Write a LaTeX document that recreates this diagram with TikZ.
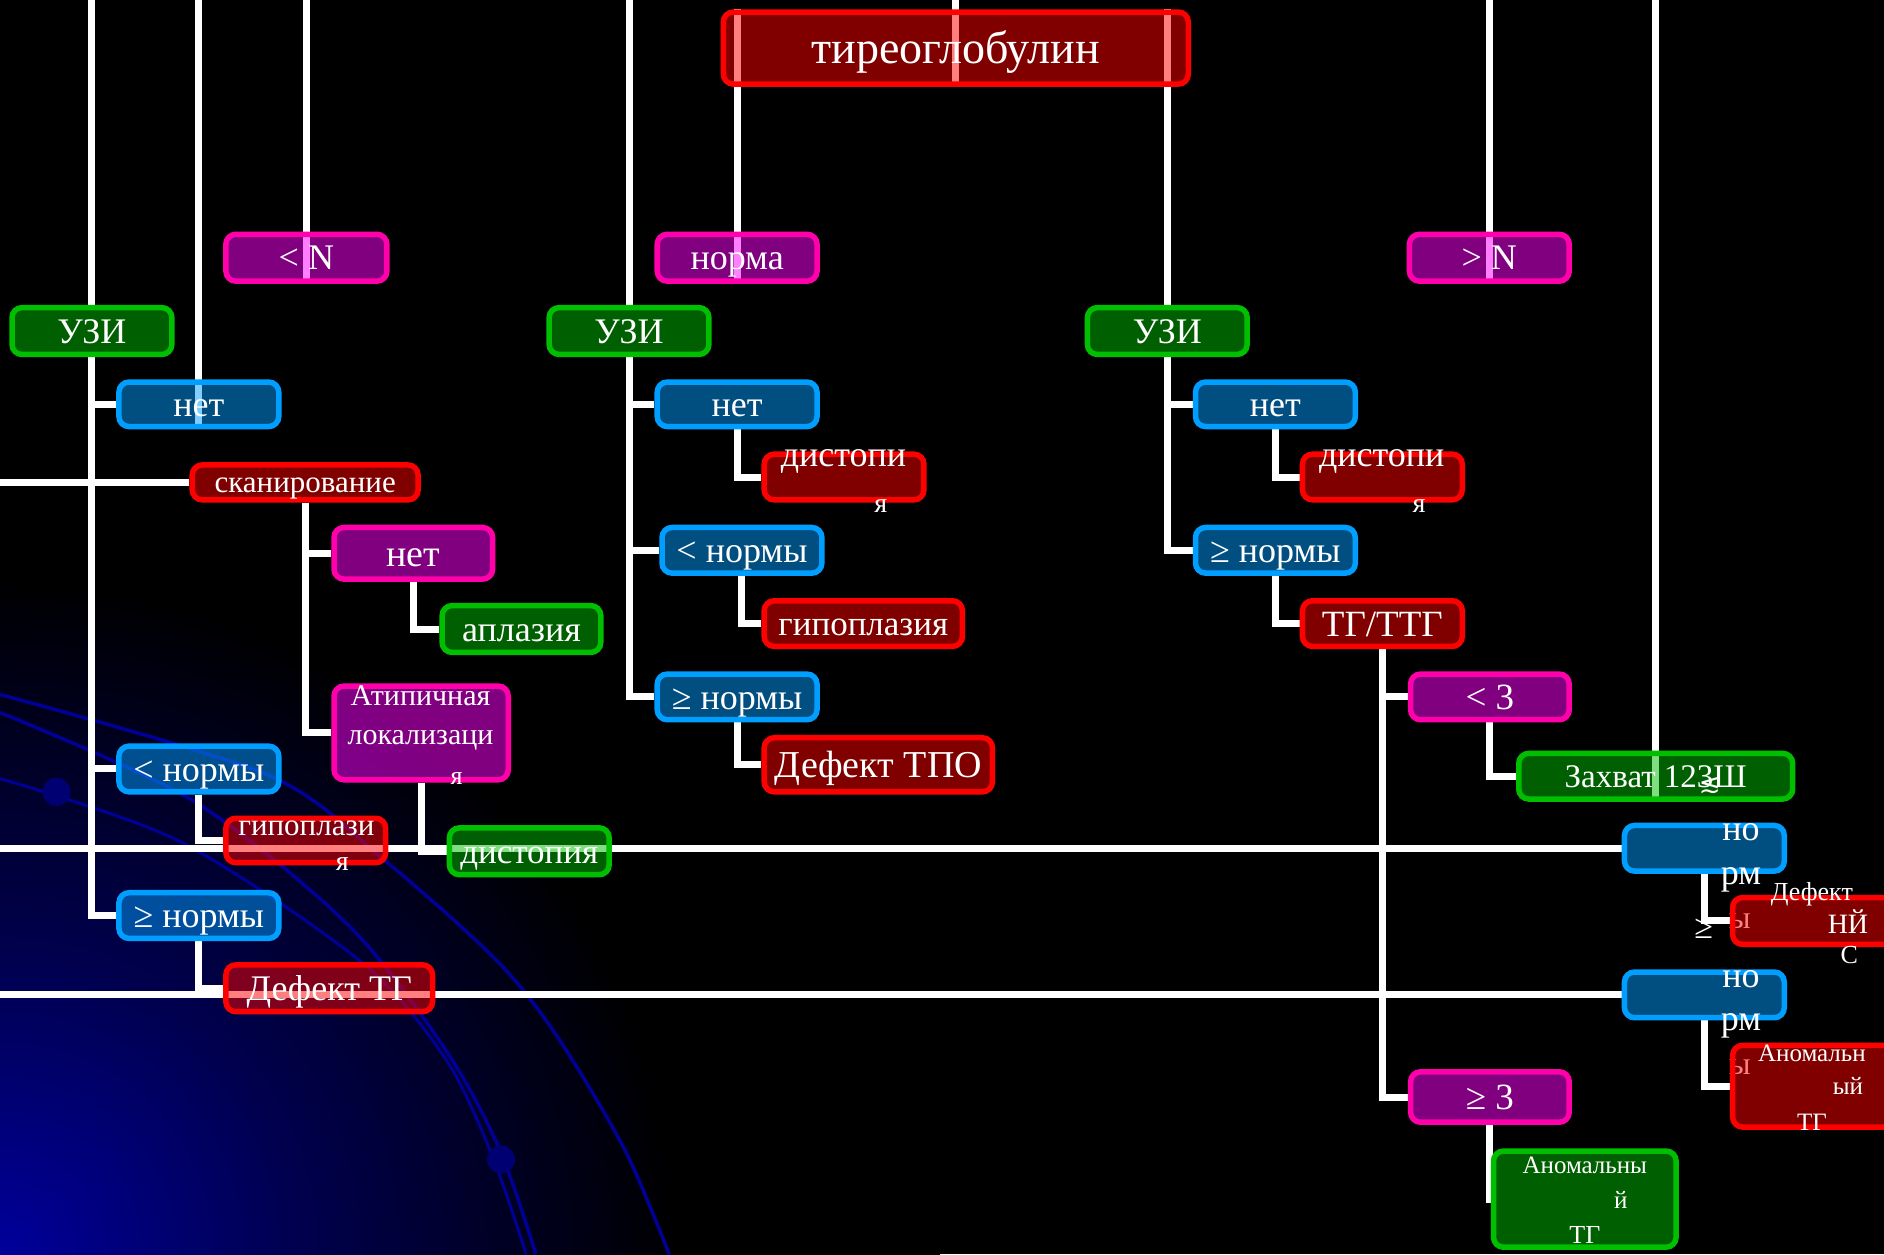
\documentclass[tikz,border=0pt]{standalone}
\usepackage{fontspec}
\setmainfont{Liberation Serif}
\newfontfamily\symfont{DejaVu Sans}
\pgfdeclarelayer{bg}
\pgfdeclarelayer{wires}
\pgfsetlayers{bg,wires,main}
\definecolor{bred}{RGB}{255,0,0}
\definecolor{bblue}{RGB}{0,158,255}
\definecolor{bgreen}{RGB}{0,190,0}
\definecolor{bpink}{RGB}{255,0,170}
\definecolor{bmag}{RGB}{255,0,255}
\definecolor{gblue}{RGB}{0,0,155}
\definecolor{gmid}{RGB}{0,0,78}
\definecolor{arcblue}{RGB}{0,0,150}
\definecolor{dotblue}{RGB}{0,0,115}
\pgfdeclareradialshading{glow}{\pgfpoint{0bp}{0bp}}{color(0bp)=(gblue); color(8bp)=(gmid); color(18bp)=(black); color(50bp)=(black)}
\tikzset{
  box/.style={rounded corners=10pt, line width=5.5pt, inner sep=0pt,
    fill opacity=0.5, text opacity=1, text=white},
  sz/.style 2 args={minimum width=#1*1.2015pt, minimum height=#2*1.2015pt},
  redbox/.style={box, draw=bred, fill=bred},
  bluebox/.style={box, draw=bblue, fill=bblue},
  greenbox/.style={box, draw=bgreen, fill=bgreen},
  purplebox/.style={box, draw=bpink, fill=bmag},
  wire/.style={draw=white, line width=7pt},
  lbl/.style={text=white, inner sep=0pt},
  fs/.style={font=\fontsize{#1}{#1}\selectfont},
  bfs/.style={font=\fontsize{#1}{#1}\selectfont, text height=#1*0.9pt, text depth=#1*0.22pt},
}
\begin{document}
\begin{tikzpicture}[x=1.2015pt, y=-1.2015pt]
\useasboundingbox (0,0) rectangle (1568,1044);

% ---------- background ----------
\begin{pgfonlayer}{bg}
\fill[black] (0,0) rectangle (1568,1044);
\begin{scope}
  \clip (0,0) rectangle (1568,1044);
  \shade[shading=glow] (0,1044) circle [radius=940pt];
  \draw[arcblue, line width=3.5pt] plot[smooth] coordinates {(0,578) (223,645) (320,716) (413,799) (464,863) (520,957) (557,1044)};
  \draw[arcblue, line width=3.5pt] plot[smooth] coordinates {(0,593) (160,666) (290,770) (371,874) (416,957) (446,1044)};
  \draw[arcblue, line width=3pt] plot[smooth] coordinates {(0,648) (149,700) (300,800) (370,880) (409,960) (438,1044)};
  \fill[dotblue] (47,659) circle [radius=14pt];
  \fill[dotblue] (417,965) circle [radius=14pt];
\end{scope}
\end{pgfonlayer}

% ---------- boxes ----------
\node[redbox, sz={387}{60}, bfs=46] (title) at (795.5,40) {тиреоглобулин};

\node[purplebox, sz={134}{39}, bfs=36] (lessN) at (255,214.5) {< N};
\node[purplebox, sz={133}{39}, bfs=36] (norma) at (613.5,214.5) {норма};
\node[purplebox, sz={133}{39}, bfs=36] (moreN) at (1239.5,214.5) {> N};

\node[greenbox, sz={133}{39}, bfs=36] (uzi1) at (76.5,275.5) {УЗИ};
\node[greenbox, sz={133}{39}, bfs=36] (uzi2) at (523.5,275.5) {УЗИ};
\node[greenbox, sz={133}{39}, bfs=36] (uzi3) at (971.5,275.5) {УЗИ};

\node[bluebox, sz={133}{37}, bfs=36] (net1) at (165.5,336.5) {нет};
\node[bluebox, sz={133}{37}, bfs=36] (net2) at (613.5,336.5) {нет};
\node[bluebox, sz={133}{37}, bfs=36] (net3) at (1061.5,336.5) {нет};

\node[redbox, sz={188}{29}, bfs=31] (scan) at (254,401.5) {сканирование};

\node[redbox, sz={133}{38}] (dist2) at (702.5,397) {};
\node[lbl, fs=36] (dist2a) at (702,384) {дистопи};
\node[lbl, fs=28] (dist2b) at (733,421) {я};
\node[redbox, sz={133}{38}] (dist3) at (1150.5,397) {};
\node[lbl, fs=36] (dist3a) at (1150,384) {дистопи};
\node[lbl, fs=28] (dist3b) at (1181,421) {я};

\node[purplebox, sz={132}{43}, bfs=38] (netp) at (344,460.5) {нет};
\node[bluebox, sz={133}{38}, bfs=36] (lt2) at (617.5,458) {< нормы};
\node[bluebox, sz={133}{38}, bfs=36] (ge3n) at (1061.5,458) {≥ нормы};

\node[greenbox, sz={132}{39}, bfs=36] (apl) at (434,523.5) {аплазия};
\node[redbox, sz={165}{38}, bfs=35] (gipo2) at (718.5,519) {гипоплазия};
\node[redbox, sz={133}{38}, bfs=37] (tgttg) at (1150.5,519) {ТГ/ТТГ};

\node[bluebox, sz={133}{38}, bfs=36] (ge2) at (613.5,580) {≥ нормы};
\node[purplebox, sz={132}{38}, bfs=37] (lt3) at (1240,580) {< 3};

\node[purplebox, sz={145}{78}] (atip) at (350.5,610) {};
\node[lbl, fs=30] (atipa) at (350,579) {Атипичная};
\node[lbl, fs=30] (atipb) at (350,616) {локализаци};
\node[lbl, fs=26] (atipc) at (380,648) {я};

\node[redbox, sz={190}{45}, bfs=38] (defTPO) at (731,636.5) {Дефект ТПО};
\node[greenbox, sz={228}{38}, bfs=33] (zahv) at (1378,646) {Захват 12\makebox[0pt][l]{\hspace{2pt}\raisebox{-5pt}{\symfont\fontsize{26}{26}\selectfont ≲}}3Ш};

\node[bluebox, sz={133}{38}, bfs=36] (lt1) at (165.5,640) {< нормы};
\node[redbox, sz={133}{37}] (gipo1) at (254.5,699.5) {};
\node[lbl, fs=31] (gipo1a) at (255,689) {гипоплази};
\node[lbl, fs=28] (gipo1b) at (285,719) {я};
\node[greenbox, sz={133}{39}, bfs=35] (dist1) at (440.5,708.5) {дистопия};

\node[bluebox, sz={133}{38}, bfs=36] (ge1) at (165.5,762) {≥ нормы};
\node[redbox, sz={172}{39}, bfs=36] (defTG) at (274,822.5) {Дефект ТГ};

\node[bluebox, sz={133}{38}] (nr1) at (1418.5,706) {};
\node[lbl, fs=36] (nr1a) at (1449,693) {но};
\node[lbl, fs=36] (nr1b) at (1449,732) {рм};
\node[lbl, fs=32] (nr1c) at (1448,767) {ы};
\node[lbl, fs=34] (nr1d) at (1418,773) {≥};
\node[redbox, sz={143}{39}] (defnis) at (1513.5,766.5) {};
\node[lbl, fs=26] (defnisa) at (1508,744) {Дефект};
\node[lbl, fs=28] (defnisb) at (1538,767) {НЙ};
\node[lbl, fs=26] (defnisc) at (1539,795) {С};

\node[bluebox, sz={133}{38}] (nr2) at (1418.5,828) {};
\node[lbl, fs=36] (nr2a) at (1449,815) {но};
\node[lbl, fs=36] (nr2b) at (1449,854) {рм};
\node[lbl, fs=32] (nr2c) at (1448,888) {ы};
\node[redbox, sz={143}{68}] (anomr) at (1513.5,904) {};
\node[lbl, fs=25] (anomra) at (1508,877) {Аномальн};
\node[lbl, fs=25] (anomrb) at (1538,904) {ый};
\node[lbl, fs=25] (anomrc) at (1508,934) {ТГ};

\node[purplebox, sz={132}{42}, bfs=37] (ge3) at (1240,913) {≥ 3};
\node[greenbox, sz={152}{80}] (anom) at (1319,998) {};
\node[lbl, fs=25] (anoma) at (1319,970) {Аномальны};
\node[lbl, fs=25] (anomb) at (1349,999) {й};
\node[lbl, fs=26] (anomc) at (1319,1028) {ТГ};

% ---------- free ends ----------
\coordinate (top) at (0,0);
\coordinate (h1) at (0,401.5);
\coordinate (h2) at (0,706);
\coordinate (h3) at (0,828);

% ---------- connectors ----------
\begin{pgfonlayer}{wires}
\draw[wire] (uzi1.north |- top) -- (uzi1.north);
\draw[wire] (net1.south |- top) -- (net1.south);
\draw[wire] (lessN.south |- top) -- (lessN.south);
\draw[wire] (uzi2.north |- top) -- (uzi2.north);
\draw[wire] (title.south |- top) -- (title.south);
\draw[wire] (moreN.south |- top) -- (moreN.south);
\draw[wire] (zahv.south |- top) -- (zahv.south);
\draw[wire] (title.north -| norma.south) -- (norma.south);
\draw[wire] (title.north -| uzi3.north) -- (uzi3.north);

\draw[wire] (h1) -- (scan.west);
\draw[wire] (h2) -- (nr1.west);
\draw[wire] (h3) -- (nr2.west);

\draw[wire] (uzi1.south) |- (net1.west);
\draw[wire] (uzi1.south) |- (lt1.west);
\draw[wire] (uzi1.south) |- (ge1.west);
\draw[wire] (scan.south) |- (netp.west);
\draw[wire] (scan.south) |- (atip.west);
\draw[wire] (netp.south) |- (apl.west);
\draw[wire] (atip.south) |- (dist1.west);
\draw[wire] (lt1.south) |- (gipo1.west);
\draw[wire] (ge1.south) |- (defTG.west);

\draw[wire] (uzi2.south) |- (net2.west);
\draw[wire] (uzi2.south) |- (lt2.west);
\draw[wire] (uzi2.south) |- (ge2.west);
\draw[wire] (net2.south) |- (dist2.west);
\draw[wire] (lt2.south) |- (gipo2.west);
\draw[wire] (ge2.south) |- (defTPO.west);

\draw[wire] (uzi3.south) |- (net3.west);
\draw[wire] (uzi3.south) |- (ge3n.west);
\draw[wire] (net3.south) |- (dist3.west);
\draw[wire] (ge3n.south) |- (tgttg.west);
\draw[wire] (tgttg.south) |- (lt3.west);
\draw[wire] (tgttg.south) |- (ge3.west);
\draw[wire] (lt3.south) |- (zahv.west);
\draw[wire] (ge3.south) |- (anom.west);

\draw[wire] (nr1.south) |- (defnis.west);
\draw[wire] (nr2.south) |- (anomr.west);
\end{pgfonlayer}
\end{tikzpicture}
\end{document}
